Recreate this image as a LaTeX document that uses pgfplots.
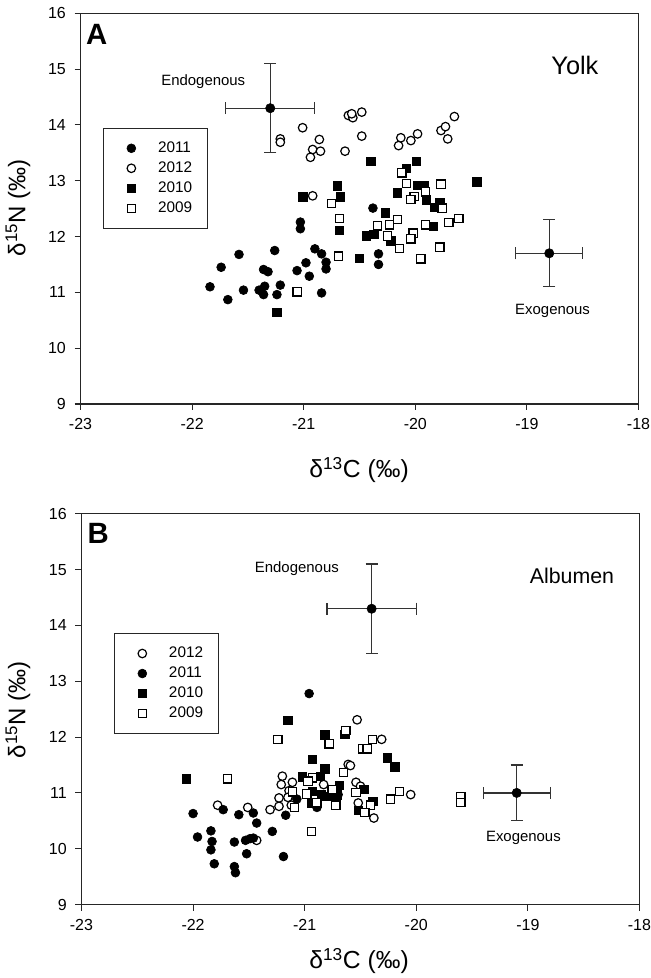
\documentclass[border=0pt]{standalone}
\usepackage{fontspec}
\setmainfont{Liberation Sans}
\usepackage{pgfplots}
\pgfplotsset{compat=1.18}

\pgfplotsset{
  isopanel/.style={
    scale only axis, width=418.5pt, height=293pt,
    xmin=-23, xmax=-18, ymin=9, ymax=16,
    xtick={-23,-22,-21,-20,-19,-18},
    xticklabels={-23,-22,-21,-20,-19,-18},
    ytick={9,10,11,12,13,14,15,16},
    yticklabels={9,10,11,12,13,14,15,16},
    tick pos=left, tick align=outside, major tick length=4.5pt,
    tick style={line width=0.8pt, black!85},
    axis line style={line width=0.8pt, black!85},
    ticklabel style={font=\fontsize{12}{14}\selectfont},
    xticklabel style={yshift=-3pt},
    yticklabel style={xshift=-3pt},
    clip=false,
    legend cell align=left,
    legend image code/.code={\path[draw=none, fill=none] (0pt,-3pt) rectangle (41pt,3pt);
      \draw[##1] plot coordinates {(21pt,0pt)};},
    legend style={anchor=north west, draw=black!85, line width=0.75pt,
      inner xsep=0pt, inner ysep=10pt, row sep=5pt, column sep=0pt,
      nodes={inner sep=0pt, text height=8pt, text depth=2pt, text width=37pt},
      font=\fontsize{11.5}{13}\selectfont},
  },
  fcirc/.style={only marks, mark=*, mark size=3.3pt, mark options={draw=black, fill=black, line width=0.5pt}},
  ocirc/.style={only marks, mark=*, mark size=3.2pt, mark options={draw=black, fill=white, line width=0.9pt}},
  fsq/.style={only marks, mark=square*, mark size=3.2pt, mark options={draw=black, fill=black, line width=0.5pt}},
  osq/.style={only marks, mark=square*, mark size=3.1pt, mark options={draw=black, fill=white, line width=0.9pt}},
  source/.style={only marks, forget plot, mark=*, mark size=3.5pt, mark options={draw=black, fill=black},
    error bars/.cd, x dir=both, x explicit, y dir=both, y explicit,
    error mark=|,
    error bar style={line width=0.9pt, black!80},
    error mark options={mark size=4.5pt, line width=0.9pt, black!80}},
}

\begin{document}
\begin{tikzpicture}
\useasboundingbox (0,0) rectangle (487.5pt,733.5pt);

% ---------- panel A: yolk ----------
\begin{axis}[isopanel, at={(60.4pt,430.5pt)}, anchor=south west,
  legend style={at={(0.040,0.707)}}]

\addplot[fcirc] coordinates {
  (-21.84,11.10) (-21.74,11.45) (-21.68,10.87) (-21.58,11.68) (-21.54,11.04)
  (-21.40,11.04) (-21.36,11.41) (-21.32,11.37) (-21.35,11.11) (-21.36,10.96)
  (-21.26,11.75) (-21.21,11.13) (-21.24,10.96) (-21.06,11.39) (-21.03,12.26)
  (-21.03,12.14) (-20.98,11.53) (-20.95,11.29) (-20.90,11.78) (-20.84,11.69)
  (-20.80,11.54) (-20.80,11.42) (-20.84,10.99) (-20.38,12.51) (-20.33,11.69)
  (-20.33,11.50)
};
\addlegendentry{2011}

\addplot[ocirc] coordinates {
  (-21.21,13.75) (-21.21,13.69) (-21.01,13.95) (-20.86,13.74) (-20.92,13.56)
  (-20.85,13.53) (-20.94,13.42) (-20.92,12.73) (-20.63,13.53) (-20.48,13.80)
  (-20.60,14.17) (-20.56,14.13) (-20.57,14.20) (-20.48,14.23) (-20.13,13.77)
  (-20.15,13.63) (-20.04,13.72) (-19.98,13.84) (-19.77,13.90) (-19.73,13.97)
  (-19.71,13.75) (-19.65,14.15)
};
\addlegendentry{2012}

\addplot[fsq] coordinates {
  (-21.01,12.71) (-20.70,12.91) (-20.67,12.71) (-20.68,12.11) (-20.50,11.61)
  (-21.24,10.64) (-20.40,13.35) (-20.44,12.01) (-20.37,12.04) (-19.99,13.35)
  (-20.08,13.22) (-19.98,12.92) (-19.92,12.92) (-20.16,12.78) (-19.90,12.66)
  (-19.83,12.52) (-19.78,12.60) (-20.27,12.43) (-20.22,11.92) (-19.84,12.18)
  (-19.45,12.98)
};
\addlegendentry{2010}

\addplot[osq] coordinates {
  (-20.75,12.59) (-20.68,12.32) (-20.69,11.65) (-21.06,11.01) (-20.12,13.14)
  (-20.08,12.95) (-19.77,12.94) (-19.91,12.80) (-20.01,12.72) (-20.04,12.66)
  (-19.76,12.51) (-20.16,12.31) (-20.23,12.21) (-20.34,12.19) (-19.91,12.21)
  (-19.70,12.25) (-19.61,12.32) (-20.25,12.01) (-20.02,12.06) (-20.04,11.96)
  (-20.14,11.79) (-19.78,11.81) (-19.95,11.60)
};
\addlegendentry{2009}

% diet end members
\addplot[source] coordinates {
  (-21.3,14.3) +- (0.4,0.8)
  (-18.8,11.7) +- (0.3,0.6)
};

\node[font=\bfseries\fontsize{22}{26}\selectfont] at (rel axis cs:0.029,0.9455) {A};
\node[font=\fontsize{19}{22}\selectfont] at (rel axis cs:0.886,0.867) {Yolk};
\node[font=\fontsize{11.2}{13}\selectfont] at (axis cs:-21.90,14.77) {Endogenous};
\node[font=\fontsize{11.2}{13}\selectfont] at (axis cs:-18.77,10.66) {Exogenous};
\end{axis}

% ---------- panel B: albumen ----------
\begin{axis}[isopanel, at={(61.1pt,55.1pt)}, anchor=south west,
  legend style={at={(0.058,0.695)}}]

\addplot[ocirc] coordinates {
  (-21.78,10.78) (-21.51,10.74) (-21.43,10.15) (-21.31,10.70) (-21.23,10.76)
  (-21.23,10.91) (-21.20,11.30) (-21.21,11.15) (-21.11,11.19) (-21.14,11.04)
  (-21.15,10.92) (-21.12,10.78) (-20.83,11.15) (-20.61,11.51) (-20.53,12.31)
  (-20.31,11.96) (-20.59,11.49) (-20.54,11.19) (-20.50,11.12) (-20.05,10.97)
  (-20.52,10.82) (-20.38,10.55)
};
\addlegendentry{2012}

\addplot[fcirc] coordinates {
  (-20.96,12.78) (-22.00,10.63) (-21.73,10.70) (-21.59,10.61) (-21.46,10.64)
  (-21.43,10.46) (-21.84,10.32) (-21.96,10.21) (-21.83,10.13) (-21.84,9.98)
  (-21.81,9.73) (-21.63,10.12) (-21.53,10.15) (-21.49,10.18) (-21.46,10.19)
  (-21.52,9.91) (-21.63,9.68) (-21.62,9.57) (-21.29,10.31) (-21.19,9.86)
  (-21.17,10.60) (-21.07,10.89) (-20.89,10.74) (-20.70,10.97)
};
\addlegendentry{2011}

\addplot[fsq] coordinates {
  (-22.06,11.25) (-21.15,12.30) (-20.82,12.04) (-20.93,11.60) (-20.82,11.43)
  (-21.02,11.29) (-20.86,11.30) (-20.69,11.14) (-20.93,11.03) (-20.85,10.97)
  (-20.80,10.94) (-20.94,10.82) (-20.71,10.97) (-20.64,12.05) (-20.26,11.63)
  (-20.19,11.47) (-20.47,11.06) (-20.39,10.85) (-20.52,10.69) (-20.75,10.94)
};
\addlegendentry{2010}

\addplot[osq] coordinates {
  (-21.69,11.25) (-21.24,11.96) (-20.78,11.88) (-20.63,12.12) (-20.65,11.37)
  (-20.93,11.27) (-20.97,11.21) (-21.11,11.02) (-20.98,10.98) (-20.76,11.04)
  (-20.89,10.82) (-20.72,10.78) (-21.09,10.74) (-20.94,10.31) (-20.48,11.79)
  (-20.44,11.79) (-20.39,11.96) (-20.23,10.89) (-20.15,11.03) (-20.54,11.01)
  (-20.41,10.78) (-20.46,10.65) (-20.75,11.06) (-19.60,10.93) (-19.60,10.83)
};
\addlegendentry{2009}

\addplot[source] coordinates {
  (-20.4,14.3) +- (0.4,0.8)
  (-19.1,11.0) +- (0.3,0.5)
};

\node[font=\bfseries\fontsize{22}{26}\selectfont] at (rel axis cs:0.030,0.951) {B};
\node[font=\fontsize{16}{19}\selectfont] at (rel axis cs:0.879,0.842) {Albumen};
\node[font=\fontsize{11.2}{13}\selectfont] at (axis cs:-21.07,15.02) {Endogenous};
\node[font=\fontsize{11.2}{13}\selectfont] at (axis cs:-19.04,10.19) {Exogenous};
\end{axis}

% axis titles
\node[font=\fontsize{18.5}{22}\selectfont] at (269.3pt,381pt) {δ\textsuperscript{13}C (‰)};
\node[font=\fontsize{18.5}{22}\selectfont] at (269.3pt,12.8pt) {δ\textsuperscript{13}C (‰)};
\node[font=\fontsize{18}{21}\selectfont, rotate=90] at (13.5pt,577.5pt) {δ\textsuperscript{15}N (‰)};
\node[font=\fontsize{18}{21}\selectfont, rotate=90] at (13.5pt,201pt) {δ\textsuperscript{15}N (‰)};
\end{tikzpicture}
\end{document}
